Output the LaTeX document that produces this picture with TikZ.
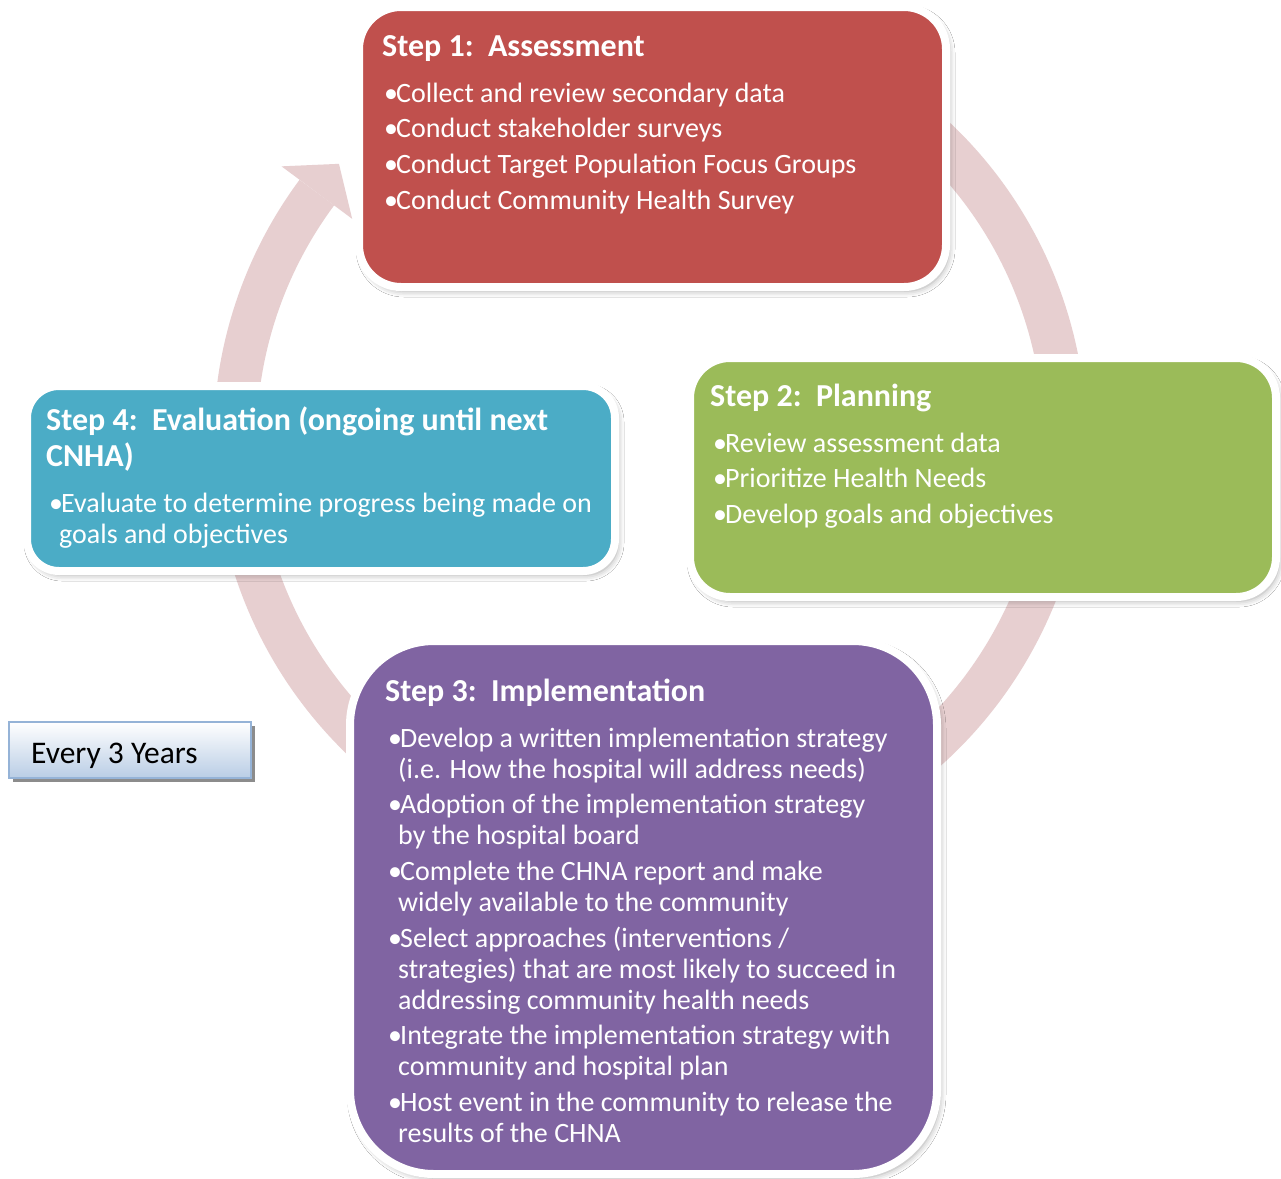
\documentclass[tikz,border=0pt]{standalone}
\usepackage{fontspec}
\setmainfont{Carlito}
\usetikzlibrary{calc,shadows,shadows.blur}

\definecolor{redstep}{RGB}{192,80,77}
\definecolor{greenstep}{RGB}{155,187,89}
\definecolor{purplestep}{RGB}{128,100,162}
\definecolor{tealstep}{RGB}{75,172,198}
\definecolor{ringpink}{RGB}{231,207,208}
\definecolor{noteborder}{RGB}{149,179,215}
\definecolor{notefill}{RGB}{185,205,229}

% bullet list helpers: bullet box width and hanging indent
\newlength\bulw \setlength\bulw{12pt}
\newlength\hangw \setlength\hangw{10pt}
\newcommand\firstitem[1]{\noindent\hangindent=\hangw\hangafter=1\makebox[\bulw][l]{•}#1\par}
\newcommand\nextitem[1]{\vspace{4.7pt}\noindent\hangindent=\hangw\hangafter=1\makebox[\bulw][l]{•}#1\par}
\newcommand\bodyblock[1]{\parbox[t]{620pt}{\raggedright\fontsize{28}{31}\selectfont #1}}
\newcommand\titleblock[1]{\parbox[t]{620pt}{\raggedright\fontsize{32}{36}\selectfont\bfseries #1}}

\tikzset{
  stepbox/.style={rectangle, draw=white, line width=8pt, inner sep=0pt,
    blur shadow={shadow xshift=3pt, shadow yshift=-4pt, shadow blur radius=6pt, shadow opacity=35}},
  steptext/.style={anchor=base west, inner sep=0pt, text=white},
  ring/.style={draw=ringpink, line width=43pt, line cap=butt},
}

\begin{document}
\begin{tikzpicture}[x=1pt, y=1pt]
  \useasboundingbox (0,0) rectangle (1281,-1178);
  \fill[white] (0,0) rectangle (1281,-1178);

  % the cycle ring with its arrowhead
  \coordinate (c) at (650,-440);
  \coordinate (ringstart) at ($(c)+(60:415)$);
  \draw[ring] (ringstart) arc[start angle=60, end angle=-216.6, radius=415];
  \coordinate (barbout) at ($(c)+(143.4:459)$);
  \coordinate (barbin) at ($(c)+(143.4:371)$);
  \coordinate (tip) at ($(c)+(138.4:416)$);
  \fill[ringpink] (barbout) -- (tip) -- (barbin) -- cycle;

  % step boxes
  \node[stepbox, fill=redstep, minimum width=587pt, minimum height=280pt, rounded corners=42pt] (s1) at (652.5,-147) {};
  \node[stepbox, fill=greenstep, minimum width=586pt, minimum height=239pt, rounded corners=40pt] (s2) at (983,-477.5) {};
  \node[stepbox, fill=tealstep, minimum width=588pt, minimum height=185pt, rounded corners=32pt] (s4) at (321,-478.5) {};
  \node[stepbox, fill=purplestep, minimum width=587pt, minimum height=533pt, rounded corners=84pt] (s3) at (643.5,-907.5) {};

  % step 1
  \node[steptext] (t1) at (382,-56) {\titleblock{Step 1:\ \ Assessment}};
  \node[steptext] (b1) at (384,-102) {\bodyblock{%
    \firstitem{Collect and review secondary data}
    \nextitem{Conduct stakeholder surveys}
    \nextitem{Conduct Target Population Focus Groups}
    \nextitem{Conduct Community Health Survey}}};

  % step 2
  \node[steptext] (t2) at (710,-406) {\titleblock{Step 2:\ \ Planning}};
  \node[steptext] (b2) at (713,-452) {\bodyblock{%
    \firstitem{Review assessment data}
    \nextitem{Prioritize Health Needs}
    \nextitem{Develop goals and objectives}}};

  % step 4
  \node[steptext] (t4) at (46,-430) {\titleblock{Step 4:\ \ Evaluation (ongoing until next\\CNHA)}};
  \node[steptext] (b4) at (49,-512) {\bodyblock{%
    \firstitem{Evaluate to determine progress being made on\newline goals and objectives}}};

  % step 3
  \node[steptext] (t3) at (385,-701) {\titleblock{Step 3:\ \ Implementation}};
  \node[steptext] (b3) at (388,-747) {\bodyblock{%
    \firstitem{Develop a written implementation strategy\newline (i.e. How the hospital will address needs)}
    \nextitem{Adoption of the implementation strategy\newline by the hospital board}
    \nextitem{Complete the CHNA report and make\newline widely available to the community}
    \nextitem{Select approaches (interventions /\newline strategies) that are most likely to succeed in\newline addressing community health needs}
    \nextitem{Integrate the implementation strategy with\newline community and hospital plan}
    \nextitem{Host event in the community to release the\newline results of the CHNA}}};

  % cycle period note
  \node[rectangle, minimum width=242pt, minimum height=56pt, inner sep=0pt,
        top color=white, bottom color=notefill, draw=noteborder, line width=2pt,
        drop shadow={shadow xshift=4pt, shadow yshift=-4pt, fill=black!45, opacity=1}]
        (every) at (130,-750) {};
  \node[anchor=base west, inner sep=0pt, font=\fontsize{31.5}{36}\selectfont] (everytxt) at (31,-763) {Every 3 Years};
\end{tikzpicture}
\end{document}
